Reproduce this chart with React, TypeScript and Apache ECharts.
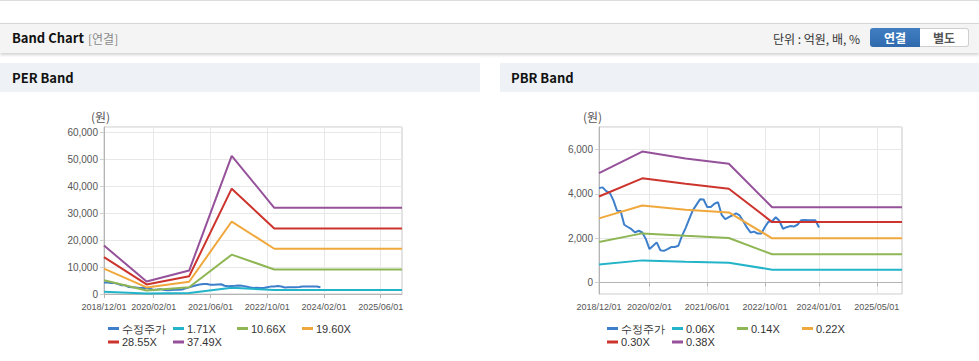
import React, { useEffect, useRef } from "react";
import * as echarts from "echarts";

// ---------- data ----------
const startYear = 2018;
const startMonth = 12;
const monthCount = 85; // 2018/12 .. 2025/12
const months: string[] = [];
for (let i = 0; i < monthCount; i++) {
  const t = startMonth - 1 + i;
  const y = startYear + Math.floor(t / 12);
  const m = (t % 12) + 1;
  months.push(`${y}/${String(m).padStart(2, "0")}/01`);
}

const perTickLabels = ["2018/12/01", "2020/02/01", "2021/06/01", "2022/10/01", "2024/02/01", "2025/06/01"];
const pbrTickLabels = ["2018/12/01", "2020/02/01", "2021/06/01", "2022/10/01", "2024/01/01", "2025/05/01"];

// 수정주가 monthly, 2018/12 .. 2024/01
const price = [
  4256, 4290, 4120, 4040, 3700, 3234, 3220, 2600, 2500, 2400,
  2256, 2330, 2250, 1950, 1500, 1650, 1805, 1450, 1420, 1500,
  1590, 1594, 1650, 2100, 2450, 2850, 3250, 3500, 3750, 3740,
  3400, 3400, 3550, 3620, 3050, 2850, 2950, 3030, 3120, 3020,
  2760, 2480, 2250, 2290, 2200, 2200, 2500, 2740, 2760, 2940,
  2780, 2420, 2490, 2540, 2520, 2600, 2800, 2810, 2800, 2800,
  2800, 2480,
];

const bandDates = ["2018/12/01", "2019/12/01", "2020/12/01", "2021/12/01", "2022/12/01", "2025/12/01"];

const perNames = ["1.71X", "10.66X", "19.60X", "28.55X", "37.49X"];
const per171 = [820, 210, 400, 2350, 1460, 1460];
const per1066 = [5100, 1300, 2480, 14600, 9100, 9100];
const per1960 = [9400, 2450, 4550, 26900, 16800, 16800];
const per2855 = [13700, 3550, 6600, 39100, 24300, 24300];
const per3749 = [18000, 4650, 8700, 51300, 32000, 32000];

const pbrNames = ["0.06X", "0.14X", "0.22X", "0.30X", "0.38X"];
const pbr006 = [800, 990, 930, 880, 570, 570];
const pbr014 = [1820, 2210, 2100, 2000, 1265, 1265];
const pbr022 = [2890, 3470, 3280, 3160, 1985, 1985];
const pbr030 = [3880, 4700, 4450, 4230, 2720, 2720];
const pbr038 = [4930, 5910, 5600, 5360, 3390, 3390];

const priceName = "수정주가";
const colors = ["#3e7fcc", "#23b4c9", "#8fb655", "#f0a83c", "#cc342d", "#955199"];

const FONT = "'Liberation Sans', Arial, sans-serif";
const KFONT = "'Noto Sans CJK KR', 'Noto Sans', sans-serif";

function bandSeries(name: string, vals: number[], color: string, axisIdx: number) {
  return {
    name,
    type: "line",
    xAxisIndex: axisIdx,
    yAxisIndex: axisIdx,
    data: bandDates.map((d, i) => [d, vals[i]]),
    symbol: "none",
    lineStyle: { width: 2, color },
    itemStyle: { color },
    connectNulls: true,
  };
}

const yLabelStyle = { color: "#555", fontSize: 10, margin: 6, fontFamily: FONT };
const xLabelStyle = { color: "#555", fontSize: 9, margin: 8, fontFamily: FONT };

// main axis: ticks, grid lines and all labels except the first one
function xAxisMain(gridIndex: number, ticks: string[]) {
  const set = new Set(ticks);
  const f = (_i: number, v: string) => set.has(v);
  const fl = (i: number, v: string) => i > 0 && set.has(v);
  return {
    type: "category",
    gridIndex,
    position: "bottom",
    data: months,
    boundaryGap: false,
    axisLine: { lineStyle: { color: "#b5b5b5" } },
    axisTick: { interval: f, length: 4, lineStyle: { color: "#b5b5b5" } },
    splitLine: { show: true, interval: f, lineStyle: { color: "#e8e8e8" } },
    axisLabel: { ...xLabelStyle, interval: fl },
  };
}

// companion axis: only the first label
function xAxisFirst(gridIndex: number) {
  return {
    type: "category",
    gridIndex,
    position: "bottom",
    data: months,
    boundaryGap: false,
    axisLine: { show: false },
    axisTick: { show: false },
    splitLine: { show: false },
    axisLabel: { ...xLabelStyle, interval: (i: number) => i === 0, showMaxLabel: false },
  };
}

export default function App() {
  const ref = useRef<HTMLDivElement>(null);

  useEffect(() => {
    if (!ref.current) return;
    const chart = echarts.init(ref.current, undefined, { renderer: "svg" });
    const gridTop = 35;
    const gridH = 167;
    const legendRows = [231, 244.5];
    const perLegendX = [108, 173, 237, 302];
    const pbrLegendX = [607, 672, 737, 802];
    const perLegendNames = [priceName, ...perNames];
    const pbrLegendNames = [priceName, ...pbrNames];
    const legends: any[] = [];
    const mkLegend = (n: string, x: number, y: number) => ({
      data: [n],
      left: x,
      top: y,
      padding: 0,
      icon: "rect",
      itemWidth: 11,
      itemHeight: 3,
      selectedMode: false,
      textStyle: { fontSize: 11, color: "#333", fontFamily: FONT, padding: [0, 0, 0, -2] },
    });
    perLegendNames.forEach((n, i) => legends.push(mkLegend(n, perLegendX[i % 4], legendRows[Math.floor(i / 4)])));
    pbrLegendNames.forEach((n, i) => legends.push(mkLegend(n, pbrLegendX[i % 4], legendRows[Math.floor(i / 4)])));

    const yAxisCommon = {
      type: "value",
      axisLine: { show: true, lineStyle: { color: "#b5b5b5" } },
      axisTick: { show: true, length: 4, lineStyle: { color: "#cfcfcf" } },
      splitLine: { show: true, lineStyle: { color: "#e8e8e8" } },
    };

    chart.setOption({
      animation: false,
      textStyle: { fontFamily: FONT },
      grid: [
        { left: 104, top: gridTop, width: 298, height: gridH, show: true, borderColor: "#c8c8c8", borderWidth: 1 },
        { left: 599, top: gridTop, width: 303, height: gridH, show: true, borderColor: "#c8c8c8", borderWidth: 1 },
      ],
      xAxis: [
        xAxisMain(0, perTickLabels),
        xAxisMain(1, pbrTickLabels),
        xAxisFirst(0),
        xAxisFirst(1),
      ],
      yAxis: [
        {
          ...yAxisCommon,
          gridIndex: 0,
          min: 0,
          max: 62000,
          interval: 10000,
          axisLabel: {
            ...yLabelStyle,
            showMaxLabel: false,
            formatter: (v: number) => v.toLocaleString("en-US"),
          },
        },
        {
          ...yAxisCommon,
          gridIndex: 1,
          min: -530,
          max: 7020,
          splitNumber: 4,
          axisLabel: {
            ...yLabelStyle,
            showMinLabel: false,
            showMaxLabel: false,
            formatter: (v: number) => v.toLocaleString("en-US"),
          },
        },
      ],
      legend: legends,
      graphic: [
        { type: "text", left: 91, top: 18, style: { text: "(원)", fill: "#555", font: `12px ${KFONT}` } },
        { type: "text", left: 583, top: 18, style: { text: "(원)", fill: "#555", font: `12px ${KFONT}` } },
      ],
      series: [
        {
          name: priceName,
          type: "line",
          xAxisIndex: 0,
          yAxisIndex: 0,
          data: price,
          symbol: "none",
          lineStyle: { width: 2, color: colors[0] },
          itemStyle: { color: colors[0] },
        },
        bandSeries(perNames[0], per171, colors[1], 0),
        bandSeries(perNames[1], per1066, colors[2], 0),
        bandSeries(perNames[2], per1960, colors[3], 0),
        bandSeries(perNames[3], per2855, colors[4], 0),
        bandSeries(perNames[4], per3749, colors[5], 0),
        {
          name: priceName,
          type: "line",
          xAxisIndex: 1,
          yAxisIndex: 1,
          data: price,
          symbol: "none",
          lineStyle: { width: 2, color: colors[0] },
          itemStyle: { color: colors[0] },
        },
        bandSeries(pbrNames[0], pbr006, colors[1], 1),
        bandSeries(pbrNames[1], pbr014, colors[2], 1),
        bandSeries(pbrNames[2], pbr022, colors[3], 1),
        bandSeries(pbrNames[3], pbr030, colors[4], 1),
        bandSeries(pbrNames[4], pbr038, colors[5], 1),
      ],
    });
    return () => chart.dispose();
  }, []);

  const headerText: React.CSSProperties = {
    position: "absolute",
    fontFamily: KFONT,
    fontWeight: 700,
    fontSize: 13,
    color: "#111",
    lineHeight: "16px",
  };

  return (
    <div style={{ position: "fixed", left: 0, top: 0, width: 979, height: 361, background: "#fff", overflow: "hidden", fontFamily: KFONT }}>
      <div style={{ position: "absolute", left: 0, top: 0, width: 979, height: 1, background: "#dcdcdc" }} />
      <div
        style={{
          position: "absolute",
          left: 0,
          top: 23,
          width: 979,
          height: 29,
          background: "#f4f4f4",
          borderTop: "1px solid #d6d6d6",
          boxShadow: "0 2px 3px rgba(0,0,0,0.18)",
        }}
      />
      <div style={{ ...headerText, left: 12, top: 30 }}>Band Chart</div>
      <div style={{ position: "absolute", left: 88, top: 31, fontSize: 12, color: "#8a8a8a", fontFamily: KFONT, lineHeight: "16px" }}>[연결]</div>
      <div style={{ position: "absolute", left: 773, top: 31, fontSize: 12, color: "#333", fontFamily: KFONT, lineHeight: "16px" }}>단위 : 억원, 배, %</div>
      <div
        style={{
          position: "absolute",
          left: 870,
          top: 28,
          width: 50,
          height: 19,
          background: "linear-gradient(#417fc2, #2f6aad)",
          borderRadius: "3px 0 0 3px",
          color: "#fff",
          fontSize: 12,
          fontWeight: 700,
          textAlign: "center",
          lineHeight: "19px",
        }}
      >
        연결
      </div>
      <div
        style={{
          position: "absolute",
          left: 920,
          top: 28,
          width: 48,
          height: 17,
          background: "#fff",
          border: "1px solid #cfcfcf",
          borderLeft: "none",
          borderRadius: "0 3px 3px 0",
          color: "#555",
          fontSize: 12,
          fontWeight: 700,
          textAlign: "center",
          lineHeight: "17px",
        }}
      >
        별도
      </div>
      <div style={{ position: "absolute", left: 0, top: 63, width: 480, height: 29, background: "#eef1f5" }} />
      <div style={{ position: "absolute", left: 500, top: 63, width: 479, height: 29, background: "#eef1f5" }} />
      <div style={{ ...headerText, left: 12, top: 70 }}>PER Band</div>
      <div style={{ ...headerText, left: 511, top: 70 }}>PBR Band</div>
      <div ref={ref} style={{ position: "absolute", left: 0, top: 92, width: 979, height: 269 }} />
    </div>
  );
}
